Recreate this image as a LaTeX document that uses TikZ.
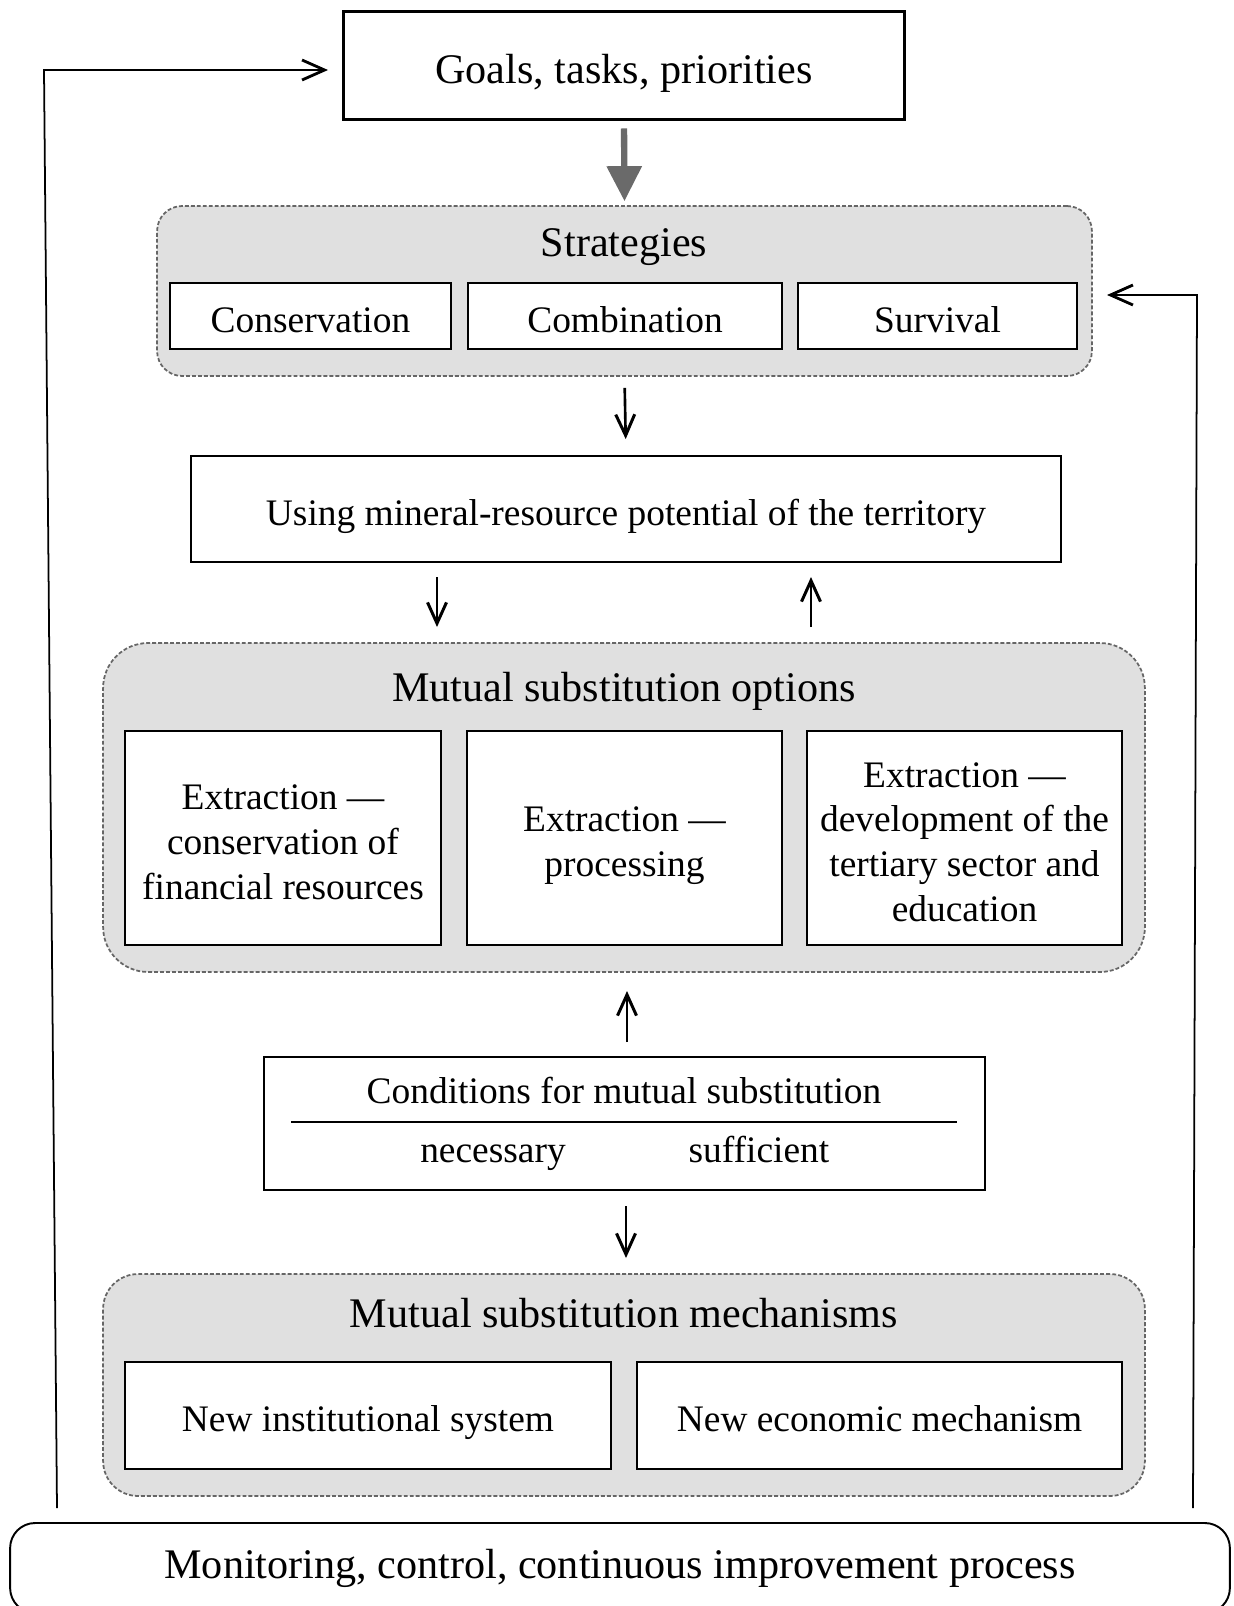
\documentclass[tikz,border=0pt]{standalone}
\usepackage{fontspec}
\setmainfont{Liberation Serif}
\usetikzlibrary{arrows.meta}
\definecolor{panelgray}{HTML}{E0E0E0}
\definecolor{dashgray}{HTML}{666666}
\definecolor{arrowgray}{HTML}{6A6A6A}
\begin{document}
\begin{tikzpicture}[x=0.02cm,y=-0.02cm,
  box/.style={draw,line width=1.1pt,fill=white,inner sep=0pt},
  panel/.style={draw=dashgray,fill=panelgray,line width=1.0pt,dash pattern=on 2.2pt off 1.2pt,inner sep=0pt},
  ttl/.style={font=\fontsize{24}{28}\selectfont,inner sep=0pt,anchor=base},
  txt/.style={font=\fontsize{21.3}{25.5}\selectfont,inner sep=0pt,anchor=base},
  mtxt/.style={font=\fontsize{21.3}{25.5}\selectfont,inner sep=0pt,align=center},
  arr/.style={line width=1.5pt,-{Straight Barb[length=0.42cm,width=0.38cm,line width=1.7pt]}},
  fb/.style={line width=1.0pt,-{Straight Barb[length=0.45cm,width=0.4cm,line width=1.6pt]}}
]
\useasboundingbox (0,0) rectangle (1234,1606);
\begin{scope}
\clip (0,0) rectangle (1234,1606);
% Goals
\node[box,line width=1.7pt,minimum width=11.24cm,minimum height=2.18cm] (goals) at (624,65.5) {};
\node[ttl] (goalstext) at (624,83) {Goals, tasks, priorities};
% Strategies panel
\node[panel,rounded corners=0.5cm,minimum width=18.7cm,minimum height=3.4cm] (strat) at (624.5,291) {};
\node[ttl] (strattitle) at (624,256) {Strategies};
\node[box,minimum width=5.62cm,minimum height=1.32cm] (cons) at (310.5,316) {};
\node[box,minimum width=6.28cm,minimum height=1.32cm] (comb) at (625,316) {};
\node[box,minimum width=5.58cm,minimum height=1.32cm] (surv) at (937.5,316) {};
\node[txt] (conslbl) at (cons.center |- 0,332) {Conservation};
\node[txt] (comblbl) at (comb.center |- 0,332) {Combination};
\node[txt] (survlbl) at (surv.center |- 0,332) {Survival};
% Using
\node[box,minimum width=17.4cm,minimum height=2.12cm] (using) at (626,509) {};
\node[txt] (usinglbl) at (626,525) {Using mineral-resource potential of the territory};
% Options panel
\node[panel,rounded corners=0.9cm,minimum width=20.84cm,minimum height=6.58cm] (opts) at (624,807.5) {};
\node[ttl] (optstitle) at (624,701) {Mutual substitution options};
\node[box,minimum width=6.32cm,minimum height=4.28cm] (opt1) at (283,838) {};
\node[box,minimum width=6.3cm,minimum height=4.28cm] (opt2) at (624.5,838) {};
\node[box,minimum width=6.3cm,minimum height=4.28cm] (opt3) at (964.5,838) {};
\node[mtxt] (opt1lbl) at (283,842) {Extraction —\\conservation of\\financial resources};
\node[mtxt] (opt2lbl) at (624.5,846) {Extraction —\\processing};
\node[mtxt] (opt3lbl) at (964.5,842) {Extraction —\\development of the\\tertiary sector and\\education};
% Conditions
\node[box,minimum width=14.42cm,minimum height=2.66cm] (cond) at (624.5,1123.5) {};
\node[txt] (condtitle) at (624,1103) {Conditions for mutual substitution};
\coordinate (cl) at (291,1122);
\coordinate (cr) at (957,1122);
\draw[line width=1.1pt] (cl) -- (cr);
\node[txt] (nec) at (493,1162) {necessary};
\node[txt] (suf) at (759,1162) {sufficient};
% Mechanisms panel
\node[panel,rounded corners=0.7cm,minimum width=20.84cm,minimum height=4.44cm] (mech) at (624,1385) {};
\node[ttl] (mechtitle) at (624,1327) {Mutual substitution mechanisms};
\node[box,minimum width=9.72cm,minimum height=2.14cm] (mech1) at (368,1415.5) {};
\node[box,minimum width=9.7cm,minimum height=2.14cm] (mech2) at (879.5,1415.5) {};
\node[txt] (mech1lbl) at (368,1431) {New institutional system};
\node[txt] (mech2lbl) at (879.5,1431) {New economic mechanism};
% Monitoring
\node[draw,line width=1.1pt,rounded corners=0.5cm,fill=white,minimum width=24.4cm,minimum height=1.8cm,inner sep=0pt] (mon) at (620,1568) {};
\node[ttl] (montext) at (620,1578) {Monitoring, control, continuous improvement process};
% Arrows
\draw[line width=3.6pt,arrowgray,-{Triangle[length=0.7cm,width=0.68cm]},shorten <=7*0.02cm,shorten >=4*0.02cm] (goals.south) -- (strat.north);
\draw[arr,shorten <=11*0.02cm,shorten >=16*0.02cm] (strat.south) -- (using.north);
\coordinate (d1a) at (437,562); \coordinate (d1b) at (437,643);
\coordinate (u1a) at (811,643); \coordinate (u1b) at (811,562);
\draw[arr,shorten <=15*0.02cm,shorten >=16*0.02cm] (d1a) -- (d1b);
\draw[arr,shorten <=16*0.02cm,shorten >=15*0.02cm] (u1a) -- (u1b);
\coordinate (u2a) at (627,1057); \coordinate (u2b) at (627,972);
\draw[arr,shorten <=15*0.02cm,shorten >=19*0.02cm] (u2a) -- (u2b);
\coordinate (d2a) at (626,1190); \coordinate (d2b) at (626,1274);
\draw[arr,shorten <=16*0.02cm,shorten >=16*0.02cm] (d2a) -- (d2b);
% Feedback
\coordinate (fl0) at (57,1508);
\coordinate (fl1) at (44,70);
\coordinate (fl2) at (328,70);
\draw[fb] (fl0) -- (fl1) -- (fl2);
\coordinate (fr0) at (1193,1508);
\coordinate (fr1) at (1197,295);
\coordinate (fr2) at (1107,295);
\draw[fb] (fr0) -- (fr1) -- (fr2);
\end{scope}
\end{tikzpicture}
\end{document}
